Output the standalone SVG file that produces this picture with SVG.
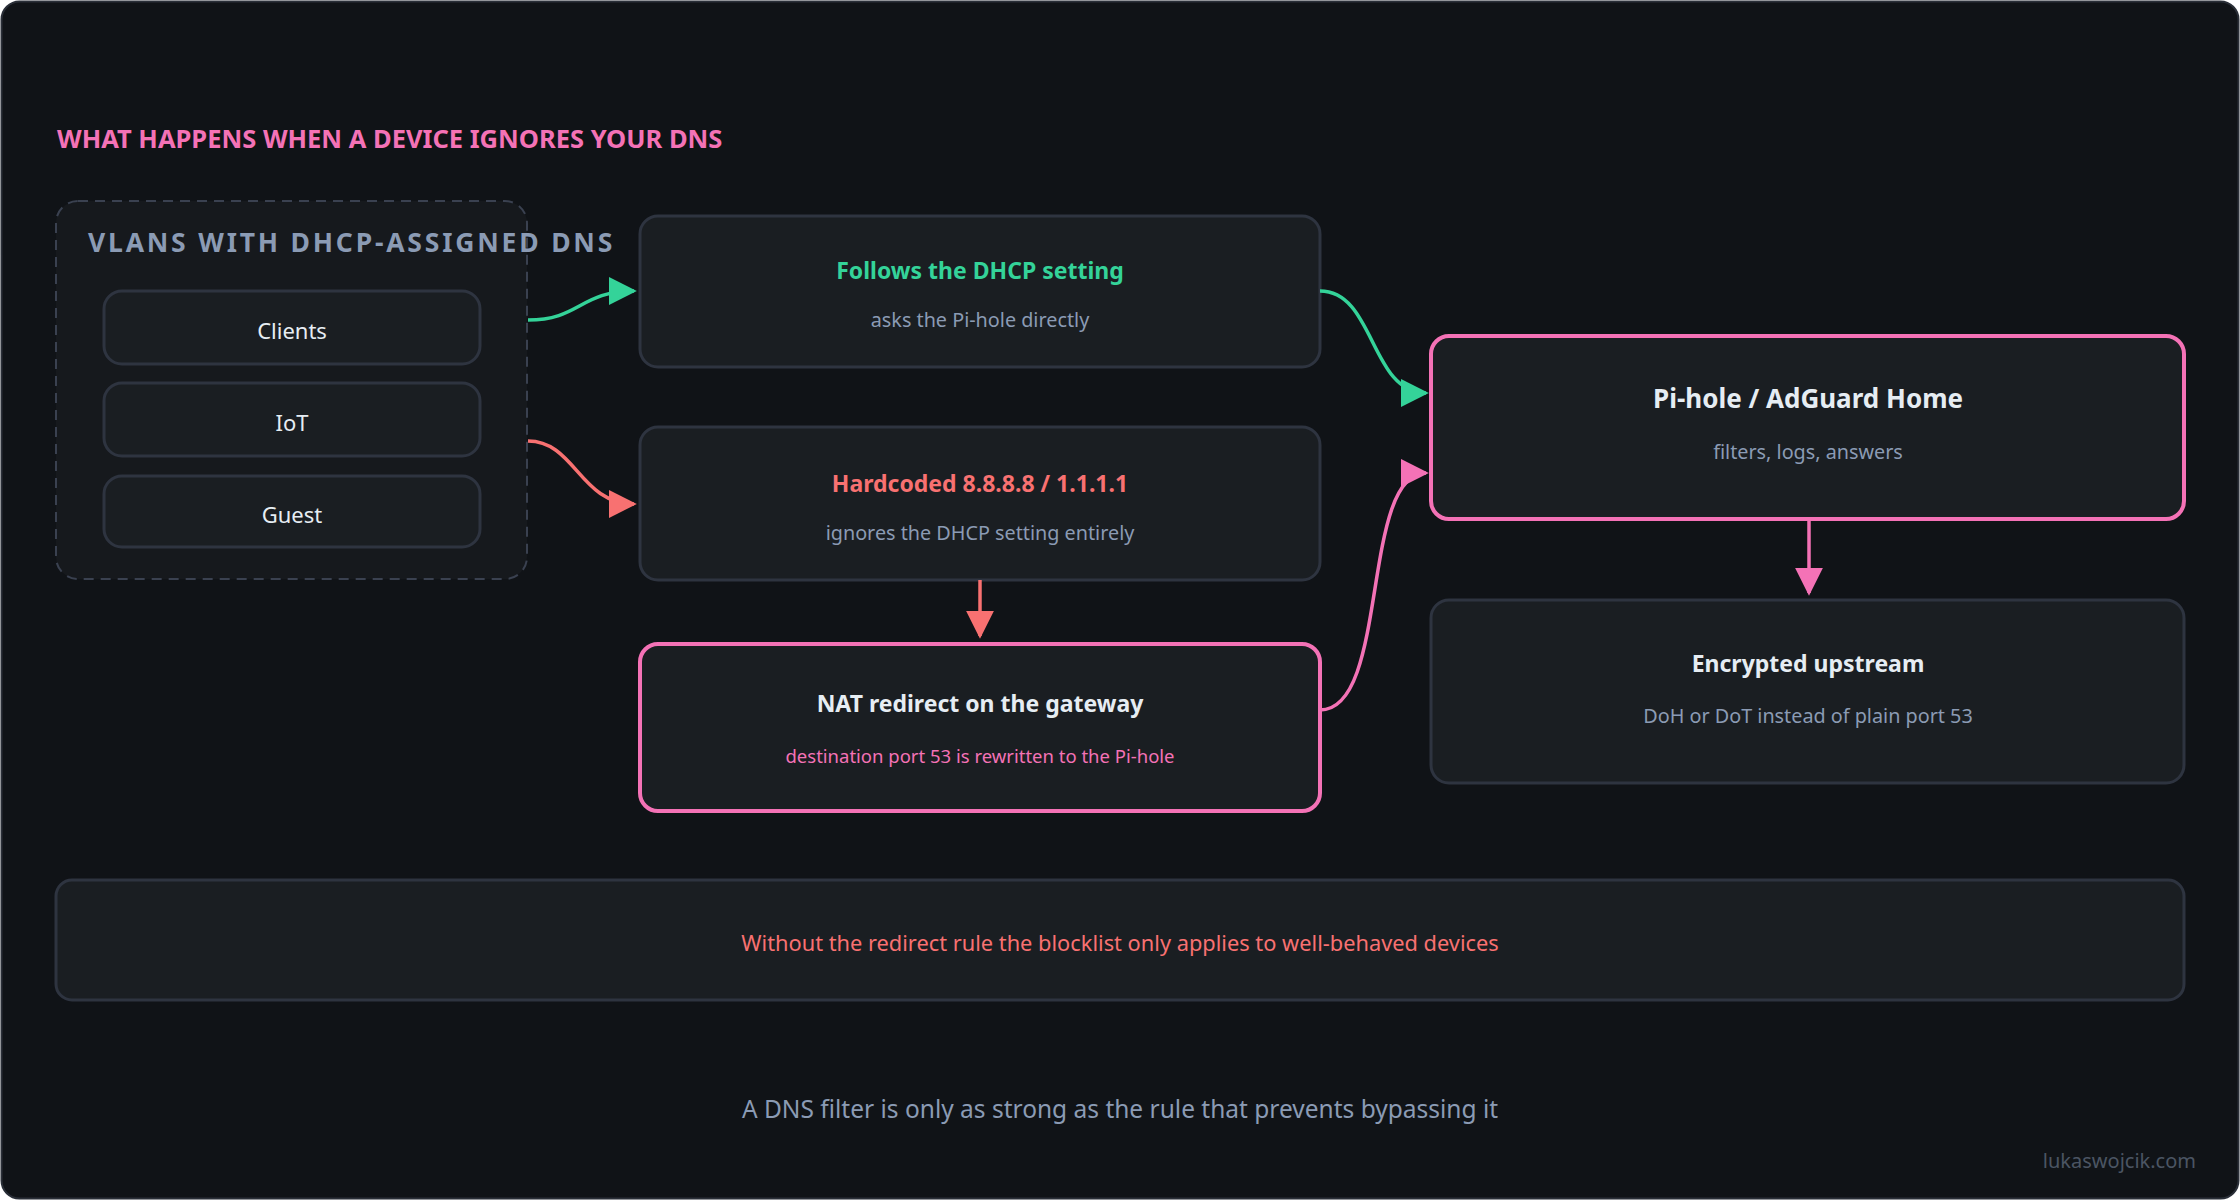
<svg xmlns="http://www.w3.org/2000/svg" width="2240" height="1200" viewBox="0 0 2240 1200">
<defs>
<style>
text{font-family:"Noto Sans","Open Sans","DejaVu Sans",sans-serif;text-anchor:middle}
.box{fill:#1a1e22;stroke:#2e3440;stroke-width:3}
.hl{fill:#1a1e22;stroke:#f472b6;stroke-width:4}
.t{font-size:23px;font-weight:700;fill:#e6edf3}
.s{font-size:19.8px;fill:#8b9bb4}
.leaf{font-size:22px;fill:#e6edf3}
.c{fill:none;stroke-width:3.5}
</style>
<marker id="ag" viewBox="0 0 10 10" refX="9" refY="5" markerWidth="8" markerHeight="8" orient="auto"><path d="M0,0L10,5L0,10z" fill="#34d399"/></marker>
<marker id="ar" viewBox="0 0 10 10" refX="9" refY="5" markerWidth="8" markerHeight="8" orient="auto"><path d="M0,0L10,5L0,10z" fill="#f87171"/></marker>
<marker id="ap" viewBox="0 0 10 10" refX="9" refY="5" markerWidth="8" markerHeight="8" orient="auto"><path d="M0,0L10,5L0,10z" fill="#f472b6"/></marker>
</defs>
<rect x="1.5" y="1.5" width="2237" height="1197" rx="18" fill="#101317" stroke="#2a2f38" stroke-width="2"/>
<text x="57" y="148" style="text-anchor:start;font-size:25.5px;font-weight:700;fill:#f472b6">WHAT HAPPENS WHEN A DEVICE IGNORES YOUR DNS</text>
<g id="vlans">
<rect x="56" y="201" width="471" height="378" rx="22" fill="#16191d" stroke="#3a4150" stroke-width="2" stroke-dasharray="10 7"/>
<text x="88" y="252" style="text-anchor:start;font-size:26.5px;font-weight:700;fill:#8b9bb4;letter-spacing:2.8px">VLANS WITH DHCP-ASSIGNED DNS</text>
</g>
<g id="clients"><rect class="box" x="104" y="291" width="376" height="73" rx="18"/><text class="leaf" x="292" y="339">Clients</text></g>
<g id="iot"><rect class="box" x="104" y="383" width="376" height="73" rx="18"/><text class="leaf" x="292" y="431">IoT</text></g>
<g id="guest"><rect class="box" x="104" y="476" width="376" height="71" rx="18"/><text class="leaf" x="292" y="523">Guest</text></g>
<g id="follows"><rect class="box" x="640" y="216" width="680" height="151" rx="18"/><text class="t" x="980" y="279" style="fill:#34d399">Follows the DHCP setting</text><text class="s" x="980" y="327">asks the Pi-hole directly</text></g>
<g id="hardcoded"><rect class="box" x="640" y="427" width="680" height="153" rx="18"/><text class="t" x="980" y="492" style="fill:#f87171">Hardcoded 8.8.8.8 / 1.1.1.1</text><text class="s" x="980" y="540">ignores the DHCP setting entirely</text></g>
<g id="nat"><rect class="hl" x="640" y="644" width="680" height="167" rx="18"/><text class="t" x="980" y="712">NAT redirect on the gateway</text><text class="s" x="980" y="763" style="fill:#f472b6;font-size:18.5px">destination port 53 is rewritten to the Pi-hole</text></g>
<g id="pihole"><rect class="hl" x="1431" y="336" width="753" height="183" rx="18"/><text class="t" x="1808" y="408" style="font-size:26px">Pi-hole / AdGuard Home</text><text class="s" x="1808" y="459">filters, logs, answers</text></g>
<g id="upstream"><rect class="box" x="1431" y="600" width="753" height="183" rx="18"/><text class="t" x="1808" y="672">Encrypted upstream</text><text class="s" x="1808" y="723">DoH or DoT instead of plain port 53</text></g>
<g id="note"><rect class="box" x="56" y="880" width="2128" height="120" rx="16"/><text x="1120" y="951" style="font-size:21.8px;fill:#f87171">Without the redirect rule the blocklist only applies to well-behaved devices</text></g>
<g id="connectors">
<path class="c" stroke="#34d399" marker-end="url(#ag)" d="M528,320 C580,320 580,291 634,291"/>
<path class="c" stroke="#f87171" marker-end="url(#ar)" d="M528,441 C575,441 580,504 634,504"/>
<path class="c" stroke="#34d399" marker-end="url(#ag)" d="M1320,291 C1375,291 1370,393 1426,393"/>
<path class="c" stroke="#f472b6" marker-end="url(#ap)" d="M1320,710 C1390,710 1360,473 1426,473"/>
<path class="c" stroke="#f87171" marker-end="url(#ar)" d="M980,580 L980,636"/>
<path class="c" stroke="#f472b6" marker-end="url(#ap)" d="M1809,520 L1809,593"/>
</g>
<text x="1120" y="1118" style="font-size:24.5px;fill:#8b9bb4">A DNS filter is only as strong as the rule that prevents bypassing it</text>
<text x="2196" y="1168" style="text-anchor:end;font-size:20px;fill:#4b5563">lukaswojcik.com</text>
</svg>
